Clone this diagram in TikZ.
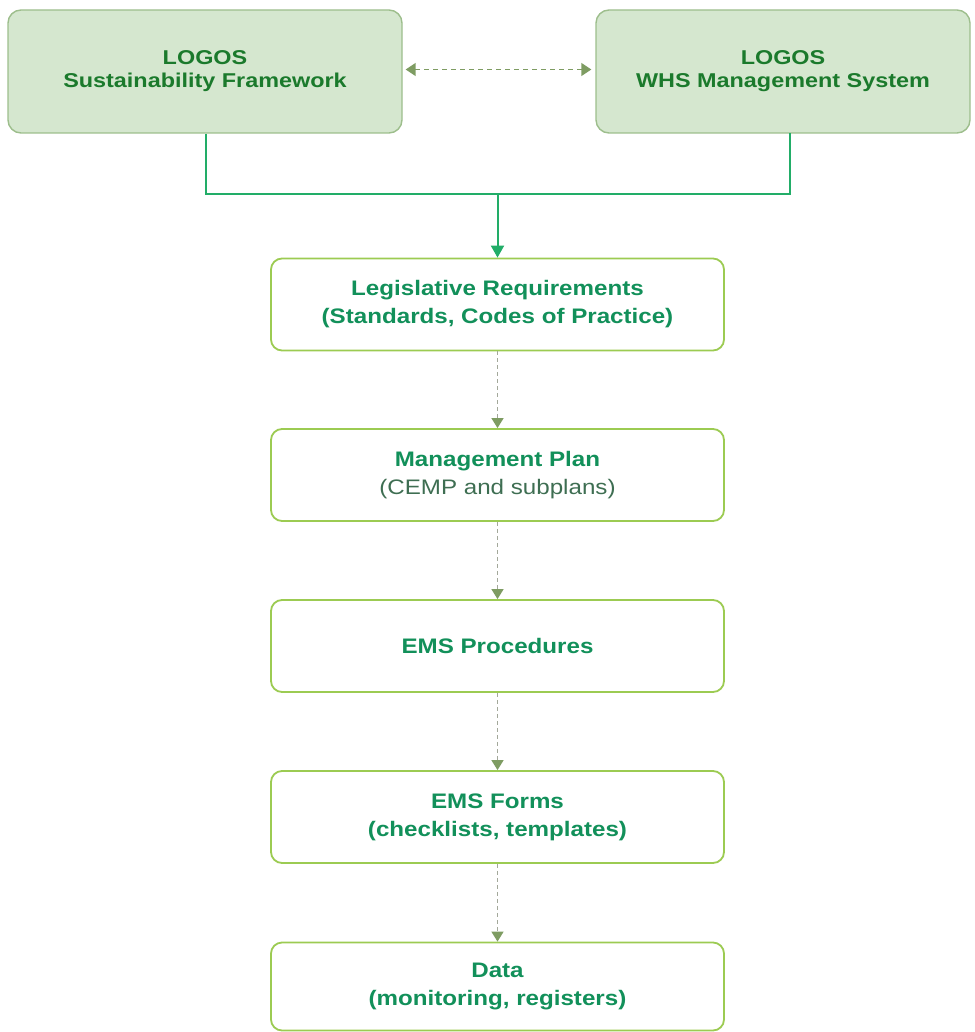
\documentclass[tikz,border=0pt]{standalone}
\usepackage{fontspec}
\setmainfont{Liberation Sans}
\newfontfamily\topfont[FakeStretch=1.17]{Liberation Sans}
\newfontfamily\midfont[FakeStretch=1.15]{Liberation Sans}
\usetikzlibrary{arrows.meta}
\definecolor{topfill}{HTML}{D5E7CF}
\definecolor{topdraw}{HTML}{9DBE8C}
\definecolor{toptext}{HTML}{1B7A2C}
\definecolor{middraw}{HTML}{9CCB52}
\definecolor{midtext}{HTML}{12905A}
\definecolor{subtext}{HTML}{3E6E52}
\definecolor{solidline}{HTML}{22AD68}
\definecolor{dashline}{HTML}{A3A89A}
\definecolor{dashhead}{HTML}{7E9C62}
\tikzset{
  topbox/.style={draw=topdraw, line width=1.4pt, fill=topfill, rounded corners=13pt,
    minimum height=123pt, align=center, text=toptext,
    font=\topfont\bfseries\fontsize{20}{23}\selectfont},
  midbox/.style={draw=middraw, line width=1.8pt, fill=white, rounded corners=11pt,
    minimum width=453pt, minimum height=92pt, align=center, text=midtext,
    font=\midfont\bfseries\fontsize{21}{28}\selectfont},
  solidconn/.style={draw=solidline, line width=2pt},
  dashconn/.style={draw=dashline, line width=1.4pt, dashed, dash pattern=on 4pt off 3pt,
    -{Triangle[width=12pt,length=10pt,color=dashhead]}},
}
\begin{document}
\begin{tikzpicture}[x=1pt,y=-1pt]
\useasboundingbox (0,0) rectangle (974,1032);
\node[topbox, minimum width=394pt] (L) at (205,71.5) {LOGOS\\Sustainability Framework};
\node[topbox, minimum width=374pt] (R) at (783,71.5) {LOGOS\\WHS Management System};
\node[midbox] (B1) at (497.5,304.5) {Legislative Requirements\\(Standards, Codes of Practice)};
\node[midbox] (B2) at (497.5,475) {Management Plan\\{\mdseries\color{subtext}(CEMP and subplans)}};
\node[midbox] (B3) at (497.5,646) {EMS Procedures};
\node[midbox] (B4) at (497.5,817) {EMS Forms\\(checklists, templates)};
\node[midbox, minimum height=88pt] (B5) at (497.5,986.5) {Data\\(monitoring, registers)};
\coordinate (J) at (497.5,194);
\coordinate (Rb) at (790,133);
\draw[solidconn] ([xshift=1pt]L.south) |- (J) -| (Rb);
\draw[solidconn, -{Triangle[width=13pt,length=12pt]}] (J) -- (B1.north);
\draw[draw=dashhead, line width=1.5pt, dashed, dash pattern=on 5pt off 4pt,
  {Triangle[width=13pt,length=10pt]}-{Triangle[width=13pt,length=10pt]}]
  (L.east) ++(3,-2) coordinate (La) (R.west) ++(-4,-2) coordinate (Ra) (La) -- (Ra);
\draw[dashconn] (B1) -- (B2);
\draw[dashconn] (B2) -- (B3);
\draw[dashconn] (B3) -- (B4);
\draw[dashconn] (B4) -- (B5);
\end{tikzpicture}
\end{document}
